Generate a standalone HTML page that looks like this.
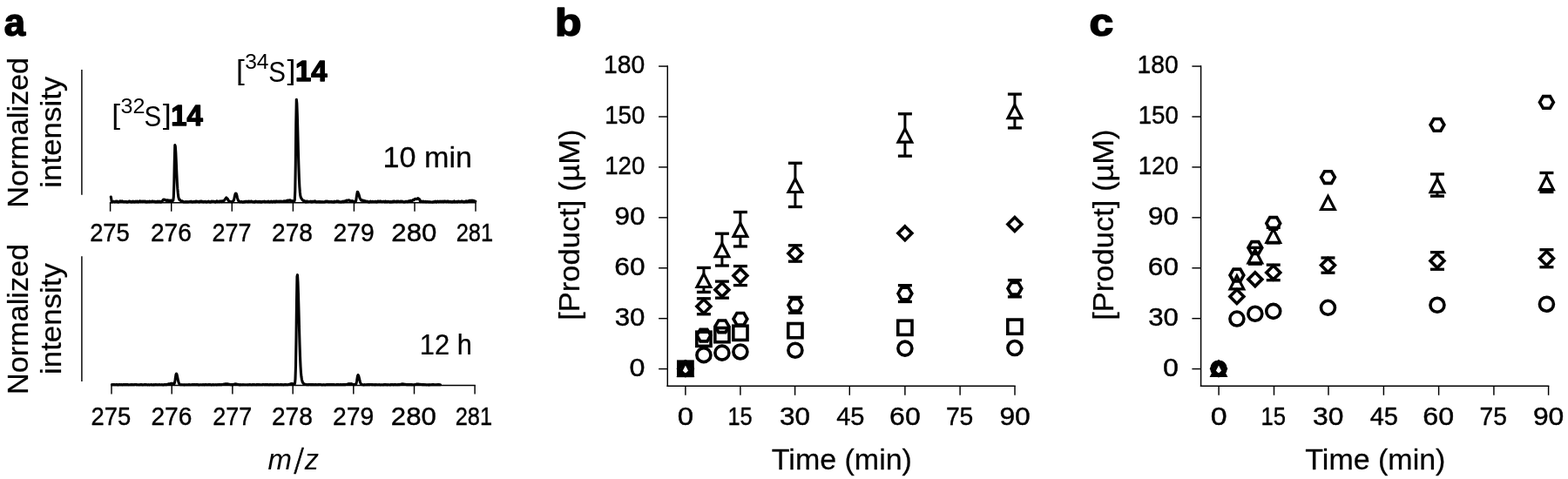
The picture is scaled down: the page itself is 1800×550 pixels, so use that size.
<!DOCTYPE html>
<html lang="en">
<head>
<meta charset="utf-8">
<title>Figure: isotope exchange spectra and product formation time courses</title>
<style>
html,body{margin:0;padding:0;background:#fff;}
body{width:1800px;height:550px;overflow:hidden;}
svg{display:block;font-family:'Liberation Sans', Arial, Helvetica, sans-serif;fill:#000;}
</style>
</head>
<body>
<svg width="1800" height="550" viewBox="0 0 1800 550">
<rect width="1800" height="550" fill="#fff"/>
<g id="panel-labels">
<text transform="translate(4.79 41.45) scale(0.9681 1)" font-size="45.2" font-weight="bold" stroke="#000" stroke-width="1.6" stroke-linejoin="round">a</text>
<text transform="translate(637.04 41.45) scale(1.1084 1)" font-size="45.2" font-weight="bold" stroke="#000" stroke-width="1.6" stroke-linejoin="round">b</text>
<text transform="translate(1250.61 41.45) scale(1.1028 1)" font-size="45.2" font-weight="bold" stroke="#000" stroke-width="1.6" stroke-linejoin="round">c</text>
</g>
<g id="spectrum-10min">
<g stroke="#000" fill="none">
<line x1="93.9" y1="79.9" x2="93.9" y2="223.8" stroke-width="1.45"/>
<line x1="125.88" y1="232.65" x2="546.73" y2="232.65" stroke-width="1.45"/>
<line x1="126.6" y1="232.65" x2="126.6" y2="242.75" stroke-width="1.45"/>
<line x1="196.7" y1="232.65" x2="196.7" y2="242.75" stroke-width="1.45"/>
<line x1="266.3" y1="232.65" x2="266.3" y2="242.75" stroke-width="1.45"/>
<line x1="336.4" y1="232.65" x2="336.4" y2="242.75" stroke-width="1.45"/>
<line x1="406.4" y1="232.65" x2="406.4" y2="242.75" stroke-width="1.45"/>
<line x1="476" y1="232.65" x2="476" y2="242.75" stroke-width="1.45"/>
<line x1="546" y1="232.65" x2="546" y2="242.75" stroke-width="1.45"/>
<path d="M127.3 226 L127.9 229.3 L128.3 231.93 L128.8 231.62 L129.3 231.55 L129.8 231.6 L130.3 231.23 L130.8 231.42 L131.3 231.6 L131.8 231.82 L132.3 231.22 L132.8 231.21 L133.3 231 L133.8 231.63 L134.3 231.73 L134.8 231.13 L135.3 231.84 L135.8 232.07 L136.3 231.85 L136.8 231.74 L137.3 231.25 L137.8 230.94 L138.3 231.33 L138.8 231.01 L139.3 231.03 L139.8 231.08 L140.3 230.9 L140.8 231.25 L141.3 231.36 L141.8 231.78 L142.3 231.62 L142.8 231.68 L143.3 231.56 L143.8 231.68 L144.3 231.52 L144.8 231.29 L145.3 231.91 L145.8 232.13 L146.3 232.05 L146.8 231.9 L147.3 231.46 L147.8 231.22 L148.3 231.2 L148.8 230.97 L149.3 231.58 L149.8 231.43 L150.3 231.81 L150.8 231.5 L151.3 231.95 L151.8 231.99 L152.3 231.19 L152.8 231.11 L153.3 231.76 L153.8 231.56 L154.3 231.99 L154.8 231.57 L155.3 231.11 L155.8 231.49 L156.3 231.77 L156.8 231.37 L157.3 231.05 L157.8 231.18 L158.3 231.84 L158.8 231.87 L159.3 231.26 L159.8 231.17 L160.3 230.99 L160.8 230.89 L161.3 231.58 L161.8 231.21 L162.3 231.46 L162.8 231.43 L163.3 231.18 L163.8 231.61 L164.3 231.18 L164.8 231.53 L165.3 231.14 L165.8 231.3 L166.3 231.15 L166.8 231.15 L167.3 231.84 L167.8 231.91 L168.3 231.45 L168.8 231.86 L169.3 231.34 L169.8 231.34 L170.3 231.79 L170.8 231.74 L171.3 231.19 L171.8 231.87 L172.3 231.35 L172.8 231.21 L173.3 231.67 L173.8 231.39 L174.3 231.26 L174.8 231 L175.3 230.93 L175.8 231.38 L176.3 231.21 L176.8 231.5 L177.3 231.37 L177.8 231.41 L178.3 231.92 L178.8 231.63 L179.3 231.62 L179.8 231.9 L180.3 231.33 L180.8 231.1 L181.3 231.76 L181.8 231.9 L182.3 231.39 L182.8 231.16 L183.3 231.61 L183.8 231.96 L184.3 231.35 L184.8 231.85 L185.3 231.89 L185.8 231.5 L186.3 230.95 L186.8 230.1 L187.3 229.35 L187.8 229.7 L188.3 229.04 L188.8 229.37 L189.3 229.22 L189.8 229.93 L190.3 230.12 L190.8 230 L191.3 229.87 L191.8 230.35 L192.3 229.85 L192.8 229.81 L193.3 230.11 L193.8 230.52 L194.3 230.47 L194.8 230.18 L195.3 230.77 L195.8 230.37 L196.3 230.13 L196.8 230.38 L197.3 230.71 L197.8 230.51 L198.3 230.53 L198.8 230.1 L199.3 226.31 L199.8 211.74 L200.3 185.58 L200.8 166.55 L201.3 167.95 L201.8 175.27 L202.3 186.47 L202.8 198.51 L203.3 208.79 L203.8 216.67 L204.3 221.99 L204.8 226.07 L205.3 227.98 L205.8 229.29 L206.3 229.11 L206.8 229.89 L207.3 230.23 L207.8 230.77 L208.3 230.72 L208.8 231.48 L209.3 230.93 L209.8 231.25 L210.3 231.59 L210.8 231.89 L211.3 231.85 L211.8 231.81 L212.3 231.89 L212.8 232.04 L213.3 231.54 L213.8 231.7 L214.3 231.96 L214.8 232.02 L215.3 231.6 L215.8 231.82 L216.3 231.97 L216.8 231.73 L217.3 231.7 L217.8 231.46 L218.3 231.57 L218.8 231.63 L219.3 231.14 L219.8 231.51 L220.3 231.98 L220.8 232.04 L221.3 231.91 L221.8 231.54 L222.3 231.74 L222.8 231.66 L223.3 231.5 L223.8 231.83 L224.3 231.21 L224.8 231.64 L225.3 231.09 L225.8 231.46 L226.3 231.47 L226.8 231.23 L227.3 231.6 L227.8 231.53 L228.3 231.62 L228.8 231.95 L229.3 231.42 L229.8 231 L230.3 231.13 L230.8 231.54 L231.3 231.23 L231.8 231.08 L232.3 231.75 L232.8 231.74 L233.3 231.53 L233.8 231.89 L234.3 231.47 L234.8 231.65 L235.3 231.26 L235.8 231.35 L236.3 231.75 L236.8 231.99 L237.3 232.04 L237.8 231.58 L238.3 231.61 L238.8 231.36 L239.3 231.1 L239.8 231.36 L240.3 231.78 L240.8 231.94 L241.3 231.86 L241.8 232.06 L242.3 231.48 L242.8 231.17 L243.3 231.34 L243.8 231.22 L244.3 231.12 L244.8 231.28 L245.3 231.55 L245.8 231.51 L246.3 231.32 L246.8 231.77 L247.3 232.06 L247.8 231.65 L248.3 231.14 L248.8 230.92 L249.3 231.66 L249.8 231.11 L250.3 231.57 L250.8 231.59 L251.3 231.35 L251.8 231.73 L252.3 231.11 L252.8 231.01 L253.3 231.28 L253.8 230.96 L254.3 231.62 L254.8 231.26 L255.3 231 L255.8 230.73 L256.3 231.03 L256.8 230.65 L257.3 230.24 L257.8 229.54 L258.3 228.84 L258.8 228.26 L259.3 227.57 L259.8 226.97 L260.3 227.42 L260.8 227.84 L261.3 228.4 L261.8 229.55 L262.3 230.57 L262.8 230.64 L263.3 230.88 L263.8 231.1 L264.3 231.54 L264.8 231.53 L265.3 231.62 L265.8 231.79 L266.3 231.47 L266.8 231.68 L267.3 231.68 L267.8 230.46 L268.3 230.06 L268.8 228.47 L269.3 225.77 L269.8 223.66 L270.3 222.23 L270.8 222.15 L271.3 222.48 L271.8 224.09 L272.3 226.35 L272.8 228.25 L273.3 229.9 L273.8 230.51 L274.3 231.16 L274.8 231.05 L275.3 231.55 L275.8 231.83 L276.3 231.75 L276.8 231.8 L277.3 231.33 L277.8 231.83 L278.3 232.08 L278.8 232.17 L279.3 231.77 L279.8 231.88 L280.3 231.46 L280.8 231.88 L281.3 231.98 L281.8 231.52 L282.3 231.1 L282.8 231.3 L283.3 231.48 L283.8 231.75 L284.3 231.58 L284.8 231.07 L285.3 231.65 L285.8 231.13 L286.3 231.66 L286.8 231.24 L287.3 231.25 L287.8 231.69 L288.3 231.22 L288.8 231.06 L289.3 231.36 L289.8 231.67 L290.3 231.89 L290.8 231.82 L291.3 232.05 L291.8 231.68 L292.3 232 L292.8 231.27 L293.3 231.15 L293.8 231.4 L294.3 231.26 L294.8 231.64 L295.3 231.68 L295.8 231.59 L296.3 231.87 L296.8 231.69 L297.3 231.38 L297.8 231.34 L298.3 231.78 L298.8 231.99 L299.3 231.39 L299.8 231.8 L300.3 232.06 L300.8 231.72 L301.3 231.65 L301.8 231.26 L302.3 231.45 L302.8 231.49 L303.3 231.6 L303.8 231.07 L304.3 231.81 L304.8 231.62 L305.3 231.45 L305.8 231.77 L306.3 231.66 L306.8 231.55 L307.3 231.7 L307.8 231.15 L308.3 231.41 L308.8 231.39 L309.3 231.91 L309.8 232.05 L310.3 231.47 L310.8 231.46 L311.3 231.12 L311.8 231.3 L312.3 231.74 L312.8 231.97 L313.3 231.64 L313.8 231.37 L314.3 231.15 L314.8 231.49 L315.3 231.91 L315.8 231.28 L316.3 231.7 L316.8 231.1 L317.3 231.06 L317.8 231.08 L318.3 231.54 L318.8 231.34 L319.3 231.3 L319.8 231.55 L320.3 231.13 L320.8 231.59 L321.3 231.16 L321.8 231.38 L322.3 231.2 L322.8 231.08 L323.3 231.35 L323.8 231.34 L324.3 231.25 L324.8 231.23 L325.3 231.29 L325.8 230.9 L326.3 230.74 L326.8 231.02 L327.3 231.03 L327.8 230.83 L328.3 230.96 L328.8 230.67 L329.3 230.71 L329.8 230.03 L330.3 230.22 L330.8 230.31 L331.3 230.43 L331.8 229.91 L332.3 229.78 L332.8 230.39 L333.3 230.01 L333.8 230.74 L334.3 230.99 L334.8 230.45 L335.3 230.47 L335.8 231.04 L336.3 230.85 L336.8 230.69 L337.3 231.37 L337.8 231.04 L338.3 229.56 L338.8 219.25 L339.3 189.11 L339.8 141.21 L340.3 114.24 L340.8 118.63 L341.3 132.01 L341.8 150.73 L342.3 170.84 L342.8 188.33 L343.3 203.08 L343.8 213.86 L344.3 220.48 L344.8 224.64 L345.3 226.49 L345.8 227.53 L346.3 228.29 L346.8 228.78 L347.3 229.71 L347.8 230.22 L348.3 230.63 L348.8 230.51 L349.3 230.61 L349.8 230.75 L350.3 231.47 L350.8 231.91 L351.3 232.02 L351.8 231.27 L352.3 230.98 L352.8 231.75 L353.3 231.55 L353.8 231.77 L354.3 231.43 L354.8 231.44 L355.3 231.49 L355.8 231.43 L356.3 231.57 L356.8 231.05 L357.3 231.54 L357.8 231.85 L358.3 231.31 L358.8 231.39 L359.3 231.69 L359.8 231.48 L360.3 231.19 L360.8 231.07 L361.3 231.36 L361.8 230.98 L362.3 231.7 L362.8 231.86 L363.3 231.83 L363.8 231.97 L364.3 231.79 L364.8 231.51 L365.3 231.6 L365.8 231.54 L366.3 231.98 L366.8 231.97 L367.3 231.43 L367.8 231.88 L368.3 231.87 L368.8 231.9 L369.3 231.95 L369.8 231.56 L370.3 231.91 L370.8 232.01 L371.3 231.87 L371.8 231.89 L372.3 231.9 L372.8 231.55 L373.3 231.73 L373.8 231.16 L374.3 231.23 L374.8 231.37 L375.3 230.98 L375.8 231.18 L376.3 231.52 L376.8 231.63 L377.3 231.28 L377.8 231.86 L378.3 231.79 L378.8 231.44 L379.3 231.64 L379.8 231.62 L380.3 231.57 L380.8 231.42 L381.3 231.96 L381.8 231.8 L382.3 231.8 L382.8 231.86 L383.3 232.09 L383.8 231.24 L384.3 231.52 L384.8 231.74 L385.3 231.35 L385.8 231.35 L386.3 231.01 L386.8 231.03 L387.3 231.21 L387.8 231.01 L388.3 231.09 L388.8 231.75 L389.3 231.64 L389.8 231.56 L390.3 231.97 L390.8 231.73 L391.3 232.06 L391.8 231.83 L392.3 231.92 L392.8 231.23 L393.3 231.5 L393.8 231.74 L394.3 231.12 L394.8 231.74 L395.3 231.17 L395.8 231.22 L396.3 230.85 L396.8 230.92 L397.3 230.92 L397.8 230.22 L398.3 230.68 L398.8 230.19 L399.3 230.03 L399.8 230.02 L400.3 229.82 L400.8 229.78 L401.3 230.27 L401.8 230.52 L402.3 230.49 L402.8 231.05 L403.3 230.94 L403.8 230.71 L404.3 230.91 L404.8 230.81 L405.3 230.91 L405.8 231.53 L406.3 231.4 L406.8 231.85 L407.3 231.84 L407.8 231.02 L408.3 231.13 L408.8 229.75 L409.3 225.96 L409.8 222.82 L410.3 220.34 L410.8 220.44 L411.3 221.93 L411.8 222.92 L412.3 224.7 L412.8 226.7 L413.3 227.91 L413.8 228.59 L414.3 229.7 L414.8 230.14 L415.3 230.23 L415.8 229.89 L416.3 230.38 L416.8 230.49 L417.3 230.38 L417.8 230.28 L418.3 230.8 L418.8 230.66 L419.3 230.98 L419.8 231.36 L420.3 231.32 L420.8 231.15 L421.3 231.42 L421.8 231.37 L422.3 231.71 L422.8 231.59 L423.3 232.01 L423.8 232.12 L424.3 231.94 L424.8 231.4 L425.3 231.09 L425.8 231.74 L426.3 231.86 L426.8 231.75 L427.3 231.45 L427.8 231.26 L428.3 231.6 L428.8 231.6 L429.3 231.62 L429.8 231.67 L430.3 231.81 L430.8 231.31 L431.3 231.19 L431.8 231.86 L432.3 232.03 L432.8 232.06 L433.3 231.25 L433.8 230.98 L434.3 231.1 L434.8 231.29 L435.3 231.55 L435.8 231.13 L436.3 231.41 L436.8 231.05 L437.3 230.94 L437.8 231.48 L438.3 231.54 L438.8 231.64 L439.3 231.43 L439.8 231.45 L440.3 231.2 L440.8 231.24 L441.3 231.65 L441.8 231.88 L442.3 231.22 L442.8 231.03 L443.3 231.64 L443.8 231.67 L444.3 231.82 L444.8 231.33 L445.3 231.37 L445.8 231.22 L446.3 231.7 L446.8 231.44 L447.3 231.63 L447.8 232.02 L448.3 231.51 L448.8 231.55 L449.3 231.76 L449.8 232 L450.3 231.6 L450.8 231.41 L451.3 231.08 L451.8 231.72 L452.3 231.17 L452.8 230.98 L453.3 231.38 L453.8 231.44 L454.3 231.66 L454.8 231.36 L455.3 231.72 L455.8 231.16 L456.3 231.1 L456.8 231.52 L457.3 231.1 L457.8 231.17 L458.3 231.6 L458.8 231.72 L459.3 231.37 L459.8 231.1 L460.3 231.22 L460.8 231.62 L461.3 231.41 L461.8 231.09 L462.3 231.55 L462.8 231.57 L463.3 231.91 L463.8 232.05 L464.3 232.06 L464.8 231.59 L465.3 231.77 L465.8 231.34 L466.3 231.18 L466.8 231.18 L467.3 231.67 L467.8 231.77 L468.3 231.14 L468.8 230.98 L469.3 230.88 L469.8 230.78 L470.3 230.71 L470.8 230.59 L471.3 230.28 L471.8 230.44 L472.3 230.61 L472.8 230.32 L473.3 230.38 L473.8 230.02 L474.3 229.38 L474.8 229.6 L475.3 229.67 L475.8 228.98 L476.3 228.36 L476.8 228.51 L477.3 228.48 L477.8 228.4 L478.3 228.68 L478.8 228.4 L479.3 228.41 L479.8 227.66 L480.3 227.85 L480.8 228.25 L481.3 228.53 L481.8 229.5 L482.3 230.95 L482.8 231.73 L483.3 231.2 L483.8 231.53 L484.3 231.17 L484.8 231.62 L485.3 231.69 L485.8 231.32 L486.3 231.16 L486.8 231.64 L487.3 231.57 L487.8 231.78 L488.3 231.5 L488.8 231.34 L489.3 231.9 L489.8 231.81 L490.3 231.6 L490.8 231.57 L491.3 231.74 L491.8 231.79 L492.3 232.01 L492.8 231.59 L493.3 231.85 L493.8 231.78 L494.3 231.94 L494.8 231.95 L495.3 231.98 L495.8 232.05 L496.3 232.14 L496.8 231.86 L497.3 231.65 L497.8 231.76 L498.3 231.88 L498.8 231.56 L499.3 231.44 L499.8 231.14 L500.3 231.61 L500.8 232.02 L501.3 231.56 L501.8 231.2 L502.3 231.11 L502.8 231.29 L503.3 231.22 L503.8 231.86 L504.3 231.2 L504.8 231.21 L505.3 231.02 L505.8 231.48 L506.3 231.76 L506.8 231.28 L507.3 231 L507.8 231.28 L508.3 231.51 L508.8 231.9 L509.3 231.19 L509.8 231.01 L510.3 231.02 L510.8 231.06 L511.3 231.09 L511.8 231.57 L512.3 231.62 L512.8 231.27 L513.3 231.11 L513.8 231.15 L514.3 231.06 L514.8 231.6 L515.3 231.35 L515.8 231.49 L516.3 231.81 L516.8 231.59 L517.3 231.3 L517.8 231.81 L518.3 232.01 L518.8 231.52 L519.3 231.55 L519.8 231.96 L520.3 231.65 L520.8 231.28 L521.3 230.98 L521.8 231.76 L522.3 231.88 L522.8 231.52 L523.3 231.53 L523.8 231.53 L524.3 231.29 L524.8 231.9 L525.3 231.8 L525.8 231.35 L526.3 230.97 L526.8 231.29 L527.3 231.3 L527.8 231.72 L528.3 231.78 L528.8 231.7 L529.3 231.24 L529.8 231.07 L530.3 231.18 L530.8 231.15 L531.3 231.74 L531.8 231.6 L532.3 231.67 L532.8 232.04 L533.3 231.45 L533.8 231.51 L534.3 231.14 L534.8 231.61 L535.3 231 L535.8 231.56 L536.3 231.73 L536.8 231.71 L537.3 230.91 L537.8 230.72 L538.3 230.98 L538.8 230.36 L539.3 230.41 L539.8 230.31 L540.3 230.67 L540.8 230.38 L541.3 230.53 L541.8 230.07 L542.3 230.44 L542.8 230.29 L543.3 230.83 L543.8 230.33 L544.3 230.98 L544.8 230.71 L545.3 231.03 L545.8 231.2" stroke-width="3.1" stroke-linejoin="round" stroke-linecap="round"/>
</g>
<text transform="translate(103.13 277.2) scale(0.9443 1)" font-size="29" stroke="#000" stroke-width="0.4" stroke-linejoin="round">275</text>
<text transform="translate(172.89 277.2) scale(0.9699 1)" font-size="29" stroke="#000" stroke-width="0.4" stroke-linejoin="round">276</text>
<text transform="translate(243.55 277.2) scale(0.9305 1)" font-size="29" stroke="#000" stroke-width="0.4" stroke-linejoin="round">277</text>
<text transform="translate(312.09 277.2) scale(0.9699 1)" font-size="29" stroke="#000" stroke-width="0.4" stroke-linejoin="round">278</text>
<text transform="translate(382.59 277.2) scale(0.9758 1)" font-size="29" stroke="#000" stroke-width="0.4" stroke-linejoin="round">279</text>
<text transform="translate(449.34 277.2) scale(1.0738 1)" font-size="29" stroke="#000" stroke-width="0.4" stroke-linejoin="round">280</text>
<text transform="translate(523.63 277.2) scale(0.8763 1)" font-size="29" stroke="#000" stroke-width="0.4" stroke-linejoin="round">281</text>
</g>
<g id="spectrum-12h">
<g stroke="#000" fill="none">
<line x1="93.9" y1="294.3" x2="93.9" y2="438" stroke-width="1.45"/>
<line x1="127.28" y1="442.4" x2="545.83" y2="442.4" stroke-width="1.45"/>
<line x1="128" y1="442.4" x2="128" y2="452.5" stroke-width="1.45"/>
<line x1="197.2" y1="442.4" x2="197.2" y2="452.5" stroke-width="1.45"/>
<line x1="266.9" y1="442.4" x2="266.9" y2="452.5" stroke-width="1.45"/>
<line x1="336.2" y1="442.4" x2="336.2" y2="452.5" stroke-width="1.45"/>
<line x1="405.8" y1="442.4" x2="405.8" y2="452.5" stroke-width="1.45"/>
<line x1="475.5" y1="442.4" x2="475.5" y2="452.5" stroke-width="1.45"/>
<line x1="545.1" y1="442.4" x2="545.1" y2="452.5" stroke-width="1.45"/>
<path d="M128.5 441.59 L129 441.77 L129.5 441.66 L130 441.63 L130.5 441.54 L131 441.58 L131.5 441.65 L132 441.75 L132.5 441.67 L133 441.75 L133.5 441.59 L134 441.63 L134.5 441.66 L135 441.84 L135.5 441.86 L136 441.8 L136.5 441.58 L137 441.62 L137.5 441.74 L138 441.63 L138.5 441.7 L139 441.68 L139.5 441.54 L140 441.8 L140.5 441.83 L141 441.65 L141.5 441.72 L142 441.64 L142.5 441.64 L143 441.69 L143.5 441.63 L144 441.62 L144.5 441.64 L145 441.73 L145.5 441.63 L146 441.58 L146.5 441.73 L147 441.66 L147.5 441.83 L148 441.77 L148.5 441.8 L149 441.68 L149.5 441.8 L150 441.6 L150.5 441.55 L151 441.52 L151.5 441.69 L152 441.77 L152.5 441.62 L153 441.64 L153.5 441.79 L154 441.76 L154.5 441.59 L155 441.57 L155.5 441.54 L156 441.52 L156.5 441.61 L157 441.53 L157.5 441.78 L158 441.7 L158.5 441.7 L159 441.75 L159.5 441.8 L160 441.84 L160.5 441.71 L161 441.65 L161.5 441.65 L162 441.53 L162.5 441.61 L163 441.73 L163.5 441.87 L164 441.85 L164.5 441.81 L165 441.77 L165.5 441.57 L166 441.6 L166.5 441.61 L167 441.72 L167.5 441.58 L168 441.62 L168.5 441.67 L169 441.78 L169.5 441.84 L170 441.78 L170.5 441.62 L171 441.76 L171.5 441.85 L172 441.77 L172.5 441.68 L173 441.69 L173.5 441.58 L174 441.73 L174.5 441.87 L175 441.76 L175.5 441.79 L176 441.84 L176.5 441.65 L177 441.83 L177.5 441.79 L178 441.63 L178.5 441.54 L179 441.56 L179.5 441.68 L180 441.76 L180.5 441.66 L181 441.83 L181.5 441.7 L182 441.69 L182.5 441.57 L183 441.81 L183.5 441.62 L184 441.8 L184.5 441.75 L185 441.74 L185.5 441.73 L186 441.63 L186.5 441.81 L187 441.9 L187.5 441.87 L188 441.78 L188.5 441.59 L189 441.75 L189.5 441.61 L190 441.75 L190.5 441.56 L191 441.56 L191.5 441.61 L192 441.36 L192.5 441.32 L193 441.07 L193.5 440.88 L194 440.77 L194.5 440.89 L195 440.82 L195.5 440.61 L196 440.35 L196.5 440.33 L197 440.31 L197.5 440.19 L198 440.31 L198.5 440.6 L199 440.63 L199.5 440.76 L200 440.56 L200.5 439.29 L201 436.79 L201.5 433.25 L202 429.94 L202.5 429.09 L203 429.98 L203.5 432.06 L204 434.51 L204.5 437 L205 438.75 L205.5 440.22 L206 440.88 L206.5 441.51 L207 441.66 L207.5 441.68 L208 441.66 L208.5 441.73 L209 441.77 L209.5 441.81 L210 441.82 L210.5 441.74 L211 441.87 L211.5 441.87 L212 441.88 L212.5 441.73 L213 441.69 L213.5 441.72 L214 441.84 L214.5 441.76 L215 441.73 L215.5 441.69 L216 441.83 L216.5 441.69 L217 441.55 L217.5 441.72 L218 441.84 L218.5 441.82 L219 441.77 L219.5 441.81 L220 441.67 L220.5 441.72 L221 441.57 L221.5 441.53 L222 441.62 L222.5 441.67 L223 441.66 L223.5 441.54 L224 441.71 L224.5 441.71 L225 441.62 L225.5 441.61 L226 441.63 L226.5 441.59 L227 441.52 L227.5 441.77 L228 441.88 L228.5 441.82 L229 441.86 L229.5 441.73 L230 441.81 L230.5 441.65 L231 441.76 L231.5 441.74 L232 441.85 L232.5 441.62 L233 441.77 L233.5 441.6 L234 441.68 L234.5 441.84 L235 441.59 L235.5 441.58 L236 441.59 L236.5 441.61 L237 441.52 L237.5 441.77 L238 441.83 L238.5 441.71 L239 441.66 L239.5 441.71 L240 441.56 L240.5 441.5 L241 441.76 L241.5 441.66 L242 441.68 L242.5 441.84 L243 441.9 L243.5 441.76 L244 441.63 L244.5 441.61 L245 441.81 L245.5 441.87 L246 441.66 L246.5 441.8 L247 441.69 L247.5 441.69 L248 441.59 L248.5 441.78 L249 441.89 L249.5 441.67 L250 441.73 L250.5 441.61 L251 441.79 L251.5 441.58 L252 441.52 L252.5 441.69 L253 441.6 L253.5 441.75 L254 441.77 L254.5 441.7 L255 441.46 L255.5 441.51 L256 441.56 L256.5 441.37 L257 441.12 L257.5 441.02 L258 440.95 L258.5 441.01 L259 440.82 L259.5 440.71 L260 440.68 L260.5 440.81 L261 440.92 L261.5 440.9 L262 441.07 L262.5 441.3 L263 441.37 L263.5 441.35 L264 441.42 L264.5 441.69 L265 441.72 L265.5 441.62 L266 441.7 L266.5 441.55 L267 441.76 L267.5 441.62 L268 441.54 L268.5 441.43 L269 441.13 L269.5 441.12 L270 440.96 L270.5 440.89 L271 441.1 L271.5 441.03 L272 441.17 L272.5 441.46 L273 441.46 L273.5 441.51 L274 441.64 L274.5 441.57 L275 441.78 L275.5 441.89 L276 441.61 L276.5 441.66 L277 441.77 L277.5 441.69 L278 441.83 L278.5 441.75 L279 441.61 L279.5 441.69 L280 441.74 L280.5 441.67 L281 441.74 L281.5 441.81 L282 441.74 L282.5 441.72 L283 441.82 L283.5 441.8 L284 441.74 L284.5 441.86 L285 441.65 L285.5 441.77 L286 441.62 L286.5 441.71 L287 441.62 L287.5 441.65 L288 441.77 L288.5 441.82 L289 441.84 L289.5 441.66 L290 441.68 L290.5 441.6 L291 441.69 L291.5 441.7 L292 441.55 L292.5 441.68 L293 441.76 L293.5 441.75 L294 441.84 L294.5 441.64 L295 441.57 L295.5 441.5 L296 441.63 L296.5 441.65 L297 441.66 L297.5 441.61 L298 441.77 L298.5 441.58 L299 441.79 L299.5 441.75 L300 441.73 L300.5 441.81 L301 441.65 L301.5 441.57 L302 441.59 L302.5 441.51 L303 441.57 L303.5 441.7 L304 441.71 L304.5 441.63 L305 441.7 L305.5 441.57 L306 441.76 L306.5 441.61 L307 441.59 L307.5 441.55 L308 441.71 L308.5 441.81 L309 441.83 L309.5 441.6 L310 441.64 L310.5 441.63 L311 441.58 L311.5 441.81 L312 441.59 L312.5 441.66 L313 441.77 L313.5 441.88 L314 441.65 L314.5 441.67 L315 441.77 L315.5 441.57 L316 441.57 L316.5 441.78 L317 441.61 L317.5 441.63 L318 441.61 L318.5 441.64 L319 441.54 L319.5 441.49 L320 441.79 L320.5 441.82 L321 441.82 L321.5 441.65 L322 441.6 L322.5 441.68 L323 441.61 L323.5 441.66 L324 441.83 L324.5 441.7 L325 441.65 L325.5 441.84 L326 441.78 L326.5 441.58 L327 441.63 L327.5 441.72 L328 441.56 L328.5 441.6 L329 441.72 L329.5 441.8 L330 441.73 L330.5 441.76 L331 441.59 L331.5 441.44 L332 441.45 L332.5 441.19 L333 441.12 L333.5 440.81 L334 440.66 L334.5 440.51 L335 440.57 L335.5 440.54 L336 440.68 L336.5 440.89 L337 441.18 L337.5 441.31 L338 441.26 L338.5 440.32 L339 435.32 L339.5 420.45 L340 389.41 L340.5 347.77 L341 317.46 L341.5 315.67 L342 324.24 L342.5 339.24 L343 357.86 L343.5 377.3 L344 395.05 L344.5 409.67 L345 420.79 L345.5 428.34 L346 433.08 L346.5 436.09 L347 437.85 L347.5 439.22 L348 439.86 L348.5 440.48 L349 440.88 L349.5 441.23 L350 441.17 L350.5 441.33 L351 441.45 L351.5 441.43 L352 441.71 L352.5 441.63 L353 441.76 L353.5 441.72 L354 441.56 L354.5 441.62 L355 441.59 L355.5 441.51 L356 441.52 L356.5 441.67 L357 441.54 L357.5 441.58 L358 441.63 L358.5 441.69 L359 441.58 L359.5 441.72 L360 441.63 L360.5 441.75 L361 441.77 L361.5 441.61 L362 441.57 L362.5 441.58 L363 441.73 L363.5 441.68 L364 441.66 L364.5 441.8 L365 441.65 L365.5 441.61 L366 441.62 L366.5 441.58 L367 441.51 L367.5 441.48 L368 441.66 L368.5 441.71 L369 441.8 L369.5 441.89 L370 441.7 L370.5 441.76 L371 441.86 L371.5 441.66 L372 441.75 L372.5 441.77 L373 441.87 L373.5 441.88 L374 441.68 L374.5 441.73 L375 441.58 L375.5 441.63 L376 441.64 L376.5 441.54 L377 441.6 L377.5 441.61 L378 441.67 L378.5 441.62 L379 441.56 L379.5 441.62 L380 441.66 L380.5 441.58 L381 441.71 L381.5 441.62 L382 441.54 L382.5 441.59 L383 441.64 L383.5 441.56 L384 441.68 L384.5 441.76 L385 441.74 L385.5 441.78 L386 441.57 L386.5 441.62 L387 441.63 L387.5 441.53 L388 441.61 L388.5 441.52 L389 441.64 L389.5 441.71 L390 441.69 L390.5 441.64 L391 441.6 L391.5 441.51 L392 441.58 L392.5 441.78 L393 441.74 L393.5 441.62 L394 441.7 L394.5 441.56 L395 441.59 L395.5 441.62 L396 441.71 L396.5 441.5 L397 441.45 L397.5 441.5 L398 441.39 L398.5 441.23 L399 441.1 L399.5 440.92 L400 440.79 L400.5 440.65 L401 440.74 L401.5 440.77 L402 440.61 L402.5 440.77 L403 440.63 L403.5 440.72 L404 440.98 L404.5 441.12 L405 441.27 L405.5 441.59 L406 441.48 L406.5 441.49 L407 441.52 L407.5 441.66 L408 441.48 L408.5 441.01 L409 440.13 L409.5 438.01 L410 434.8 L410.5 431.78 L411 430.54 L411.5 431.13 L412 432.78 L412.5 434.94 L413 437.22 L413.5 439.1 L414 440.2 L414.5 440.92 L415 441.49 L415.5 441.55 L416 441.72 L416.5 441.77 L417 441.79 L417.5 441.88 L418 441.87 L418.5 441.65 L419 441.72 L419.5 441.7 L420 441.72 L420.5 441.67 L421 441.62 L421.5 441.75 L422 441.73 L422.5 441.62 L423 441.59 L423.5 441.61 L424 441.56 L424.5 441.66 L425 441.56 L425.5 441.51 L426 441.49 L426.5 441.5 L427 441.7 L427.5 441.57 L428 441.64 L428.5 441.77 L429 441.72 L429.5 441.6 L430 441.78 L430.5 441.85 L431 441.61 L431.5 441.59 L432 441.66 L432.5 441.78 L433 441.69 L433.5 441.77 L434 441.64 L434.5 441.75 L435 441.66 L435.5 441.63 L436 441.76 L436.5 441.83 L437 441.85 L437.5 441.78 L438 441.7 L438.5 441.77 L439 441.76 L439.5 441.83 L440 441.84 L440.5 441.63 L441 441.63 L441.5 441.73 L442 441.62 L442.5 441.57 L443 441.5 L443.5 441.66 L444 441.83 L444.5 441.9 L445 441.65 L445.5 441.74 L446 441.69 L446.5 441.74 L447 441.68 L447.5 441.83 L448 441.91 L448.5 441.63 L449 441.74 L449.5 441.59 L450 441.51 L450.5 441.57 L451 441.73 L451.5 441.87 L452 441.64 L452.5 441.62 L453 441.52 L453.5 441.65 L454 441.68 L454.5 441.65 L455 441.62 L455.5 441.77 L456 441.83 L456.5 441.66 L457 441.63 L457.5 441.67 L458 441.7 L458.5 441.74 L459 441.5 L459.5 441.45 L460 441.32 L460.5 441.28 L461 441.01 L461.5 440.89 L462 440.83 L462.5 441.1 L463 441.03 L463.5 441.15 L464 441.14 L464.5 441.28 L465 441.28 L465.5 441.5 L466 441.47 L466.5 441.64 L467 441.59 L467.5 441.57 L468 441.65 L468.5 441.64 L469 441.6 L469.5 441.52 L470 441.5 L470.5 441.76 L471 441.66 L471.5 441.55 L472 441.54 L472.5 441.64 L473 441.84 L473.5 441.65 L474 441.8 L474.5 441.73 L475 441.67 L475.5 441.77 L476 441.64 L476.5 441.43 L477 441.44 L477.5 441.37 L478 441.21 L478.5 440.93 L479 440.97 L479.5 440.96 L480 441.07 L480.5 441.04 L481 441.28 L481.5 441.45 L482 441.41 L482.5 441.4 L483 441.47 L483.5 441.49 L484 441.49 L484.5 441.58 L485 441.74 L485.5 441.65 L486 441.69 L486.5 441.54 L487 441.55 L487.5 441.8 L488 441.57 L488.5 441.67 L489 441.79 L489.5 441.83 L490 441.82 L490.5 441.71 L491 441.8 L491.5 441.84 L492 441.84 L492.5 441.91 L493 441.64 L493.5 441.83 L494 441.71 L494.5 441.77 L495 441.64 L495.5 441.81 L496 441.58 L496.5 441.68 L497 441.61 L497.5 441.63 L498 441.63 L498.5 441.73 L499 441.81 L499.5 441.69 L500 441.74 L500.5 441.67 L501 441.62 L501.5 441.8 L502 441.68 L502.5 441.56 L503 441.6 L503.5 441.74 L504 441.62 L504.5 441.75 L505 441.73 L505.5 441.77" stroke-width="3.1" stroke-linejoin="round" stroke-linecap="round"/>
</g>
<text transform="translate(104.53 487.6) scale(0.9443 1)" font-size="29" stroke="#000" stroke-width="0.4" stroke-linejoin="round">275</text>
<text transform="translate(173.39 487.6) scale(0.9699 1)" font-size="29" stroke="#000" stroke-width="0.4" stroke-linejoin="round">276</text>
<text transform="translate(244.15 487.6) scale(0.9305 1)" font-size="29" stroke="#000" stroke-width="0.4" stroke-linejoin="round">277</text>
<text transform="translate(311.89 487.6) scale(0.9699 1)" font-size="29" stroke="#000" stroke-width="0.4" stroke-linejoin="round">278</text>
<text transform="translate(381.99 487.6) scale(0.9758 1)" font-size="29" stroke="#000" stroke-width="0.4" stroke-linejoin="round">279</text>
<text transform="translate(448.84 487.6) scale(1.0738 1)" font-size="29" stroke="#000" stroke-width="0.4" stroke-linejoin="round">280</text>
<text transform="translate(522.73 487.6) scale(0.8763 1)" font-size="29" stroke="#000" stroke-width="0.4" stroke-linejoin="round">281</text>
</g>
<g id="a-labels">
<text transform="translate(32.4 238.7) rotate(-90) scale(1.0174 1)" font-size="33.6" stroke="#000" stroke-width="0.25" stroke-linejoin="round">Normalized</text>
<text transform="translate(70.2 215.63) rotate(-90) scale(1.0378 1)" font-size="33.6" stroke="#000" stroke-width="0.25" stroke-linejoin="round">intensity</text>
<text transform="translate(32.4 453) rotate(-90) scale(1.0192 1)" font-size="33.6" stroke="#000" stroke-width="0.25" stroke-linejoin="round">Normalized</text>
<text transform="translate(70.2 429.93) rotate(-90) scale(1.0370 1)" font-size="33.6" stroke="#000" stroke-width="0.25" stroke-linejoin="round">intensity</text>
<text ><tspan x="128.33" y="142.2" font-size="32.26" textLength="9.85" lengthAdjust="spacingAndGlyphs">[</tspan><tspan x="138.46" y="129.9" font-size="24.2" textLength="27.96" lengthAdjust="spacingAndGlyphs">32</tspan><tspan x="165.57" y="144.6" font-size="33.6" textLength="19.72" lengthAdjust="spacingAndGlyphs">S</tspan><tspan x="186.83" y="142.2" font-size="32.26" textLength="10" lengthAdjust="spacingAndGlyphs">]</tspan><tspan x="196.2" y="144.1" font-size="32.4" textLength="36.49" lengthAdjust="spacingAndGlyphs" font-weight="bold" stroke="#000" stroke-width="1.3" stroke-linejoin="round">14</tspan></text>
<text ><tspan x="271.03" y="91.3" font-size="32.26" textLength="9.85" lengthAdjust="spacingAndGlyphs">[</tspan><tspan x="281.18" y="79" font-size="24.2" textLength="27.36" lengthAdjust="spacingAndGlyphs">34</tspan><tspan x="308.27" y="93.7" font-size="33.6" textLength="19.72" lengthAdjust="spacingAndGlyphs">S</tspan><tspan x="329.53" y="91.3" font-size="32.26" textLength="10" lengthAdjust="spacingAndGlyphs">]</tspan><tspan x="338.9" y="93.2" font-size="32.4" textLength="36.49" lengthAdjust="spacingAndGlyphs" font-weight="bold" stroke="#000" stroke-width="1.3" stroke-linejoin="round">14</tspan></text>
<text transform="translate(439.56 191.5) scale(1.0162 1)" font-size="33.6" stroke="#000" stroke-width="0.25" stroke-linejoin="round">10 min</text>
<text transform="translate(481.81 407.3) scale(0.9176 1)" font-size="33.6" stroke="#000" stroke-width="0.25" stroke-linejoin="round">12 h</text>
<text font-style="italic"><tspan x="307.62" y="539.3" font-size="33.6" textLength="27.48" lengthAdjust="spacingAndGlyphs">m</tspan><tspan x="339.08" y="544" font-size="40.5" textLength="7.45" lengthAdjust="spacingAndGlyphs" stroke="#000" stroke-width="0.6" stroke-linejoin="round">/</tspan><tspan x="349.76" y="539.3" font-size="33.6" textLength="16.22" lengthAdjust="spacingAndGlyphs">z</tspan></text>
</g>
<g id="panel-b">
<g stroke="#000" fill="none">
<line x1="766.3" y1="75.36" x2="766.3" y2="443.93" stroke-width="1.45"/>
<line x1="765.57" y1="443.2" x2="1165.72" y2="443.2" stroke-width="1.45"/>
<line x1="756.1" y1="423.6" x2="766.3" y2="423.6" stroke-width="1.45"/>
<line x1="756.1" y1="365.68" x2="766.3" y2="365.68" stroke-width="1.45"/>
<line x1="756.1" y1="307.76" x2="766.3" y2="307.76" stroke-width="1.45"/>
<line x1="756.1" y1="249.84" x2="766.3" y2="249.84" stroke-width="1.45"/>
<line x1="756.1" y1="191.92" x2="766.3" y2="191.92" stroke-width="1.45"/>
<line x1="756.1" y1="134" x2="766.3" y2="134" stroke-width="1.45"/>
<line x1="756.1" y1="76.08" x2="766.3" y2="76.08" stroke-width="1.45"/>
<line x1="786.9" y1="443.2" x2="786.9" y2="453.8" stroke-width="1.45"/>
<line x1="849.9" y1="443.2" x2="849.9" y2="453.8" stroke-width="1.45"/>
<line x1="912.6" y1="443.2" x2="912.6" y2="453.8" stroke-width="1.45"/>
<line x1="975.3" y1="443.2" x2="975.3" y2="453.8" stroke-width="1.45"/>
<line x1="1038.9" y1="443.2" x2="1038.9" y2="453.8" stroke-width="1.45"/>
<line x1="1102.1" y1="443.2" x2="1102.1" y2="453.8" stroke-width="1.45"/>
<line x1="1165" y1="443.2" x2="1165" y2="453.8" stroke-width="1.45"/>
</g>
<text transform="translate(722.51 432) scale(1.1121 1)" font-size="29" stroke="#000" stroke-width="0.4" stroke-linejoin="round">0</text>
<text transform="translate(705.73 374.08) scale(1.0761 1)" font-size="29" stroke="#000" stroke-width="0.4" stroke-linejoin="round">30</text>
<text transform="translate(705.32 316.16) scale(1.0893 1)" font-size="29" stroke="#000" stroke-width="0.4" stroke-linejoin="round">60</text>
<text transform="translate(705.4 258.24) scale(1.0866 1)" font-size="29" stroke="#000" stroke-width="0.4" stroke-linejoin="round">90</text>
<text transform="translate(694.13 200.32) scale(0.9535 1)" font-size="29" stroke="#000" stroke-width="0.4" stroke-linejoin="round">120</text>
<text transform="translate(694.13 142.4) scale(0.9535 1)" font-size="29" stroke="#000" stroke-width="0.4" stroke-linejoin="round">150</text>
<text transform="translate(693.08 84.48) scale(0.9757 1)" font-size="29" stroke="#000" stroke-width="0.4" stroke-linejoin="round">180</text>
<text transform="translate(777.78 488.2) scale(1.1410 1)" font-size="29" stroke="#000" stroke-width="0.4" stroke-linejoin="round">0</text>
<text transform="translate(835.4 488.2) scale(0.8733 1)" font-size="29" stroke="#000" stroke-width="0.4" stroke-linejoin="round">15</text>
<text transform="translate(895.02 488.2) scale(1.0861 1)" font-size="29" stroke="#000" stroke-width="0.4" stroke-linejoin="round">30</text>
<text transform="translate(960.25 488.2) scale(0.9974 1)" font-size="29" stroke="#000" stroke-width="0.4" stroke-linejoin="round">45</text>
<text transform="translate(1021.1 488.2) scale(1.1028 1)" font-size="29" stroke="#000" stroke-width="0.4" stroke-linejoin="round">60</text>
<text transform="translate(1085.92 488.2) scale(0.9726 1)" font-size="29" stroke="#000" stroke-width="0.4" stroke-linejoin="round">75</text>
<text transform="translate(1147.38 488.2) scale(1.1001 1)" font-size="29" stroke="#000" stroke-width="0.4" stroke-linejoin="round">90</text>
<text transform="translate(885.86 539) scale(1.0118 1)" font-size="33.6" stroke="#000" stroke-width="0.25" stroke-linejoin="round">Time (min)</text>
<text transform="translate(665 367.78) rotate(-90) scale(1.0276 1)" font-size="33.6" stroke="#000" stroke-width="0.25" stroke-linejoin="round">[Product] (µM)</text>
<g stroke="#000" fill="none">
<line x1="912.9" y1="341.32" x2="912.9" y2="343.48" stroke-width="3.0"/>
<line x1="912.9" y1="357.16" x2="912.9" y2="359.32" stroke-width="3.0"/>
<line x1="904.9" y1="341.32" x2="920.9" y2="341.32" stroke-width="3.3"/>
<line x1="904.9" y1="359.32" x2="920.9" y2="359.32" stroke-width="3.3"/>
<line x1="1038.9" y1="327.67" x2="1038.9" y2="330.23" stroke-width="3.0"/>
<line x1="1038.9" y1="343.91" x2="1038.9" y2="346.47" stroke-width="3.0"/>
<line x1="1030.9" y1="327.67" x2="1046.9" y2="327.67" stroke-width="3.3"/>
<line x1="1030.9" y1="346.47" x2="1046.9" y2="346.47" stroke-width="3.3"/>
<line x1="1164.9" y1="321.67" x2="1164.9" y2="324.43" stroke-width="3.0"/>
<line x1="1164.9" y1="338.11" x2="1164.9" y2="340.87" stroke-width="3.0"/>
<line x1="1156.9" y1="321.67" x2="1172.9" y2="321.67" stroke-width="3.3"/>
<line x1="1156.9" y1="340.87" x2="1172.9" y2="340.87" stroke-width="3.3"/>
<line x1="807.9" y1="342.77" x2="807.9" y2="343.67" stroke-width="3.0"/>
<line x1="807.9" y1="359.87" x2="807.9" y2="360.77" stroke-width="3.0"/>
<line x1="799.9" y1="342.77" x2="815.9" y2="342.77" stroke-width="3.3"/>
<line x1="799.9" y1="360.77" x2="815.9" y2="360.77" stroke-width="3.3"/>
<line x1="828.9" y1="323.13" x2="828.9" y2="324.53" stroke-width="3.0"/>
<line x1="828.9" y1="340.73" x2="828.9" y2="342.13" stroke-width="3.0"/>
<line x1="820.9" y1="323.13" x2="836.9" y2="323.13" stroke-width="3.3"/>
<line x1="820.9" y1="342.13" x2="836.9" y2="342.13" stroke-width="3.3"/>
<line x1="849.9" y1="305.58" x2="849.9" y2="308.48" stroke-width="3.0"/>
<line x1="849.9" y1="324.68" x2="849.9" y2="327.58" stroke-width="3.0"/>
<line x1="841.9" y1="305.58" x2="857.9" y2="305.58" stroke-width="3.3"/>
<line x1="841.9" y1="327.58" x2="857.9" y2="327.58" stroke-width="3.3"/>
<line x1="912.9" y1="281.77" x2="912.9" y2="282.87" stroke-width="3.0"/>
<line x1="912.9" y1="299.07" x2="912.9" y2="300.17" stroke-width="3.0"/>
<line x1="904.9" y1="281.77" x2="920.9" y2="281.77" stroke-width="3.3"/>
<line x1="904.9" y1="300.17" x2="920.9" y2="300.17" stroke-width="3.3"/>
<line x1="807.9" y1="307.42" x2="807.9" y2="314.37" stroke-width="3.0"/>
<line x1="807.9" y1="329.57" x2="807.9" y2="335.42" stroke-width="3.0"/>
<line x1="799.9" y1="307.42" x2="815.9" y2="307.42" stroke-width="3.3"/>
<line x1="799.9" y1="335.42" x2="815.9" y2="335.42" stroke-width="3.3"/>
<line x1="828.9" y1="268.22" x2="828.9" y2="279.57" stroke-width="3.0"/>
<line x1="828.9" y1="294.77" x2="828.9" y2="305.02" stroke-width="3.0"/>
<line x1="820.9" y1="268.22" x2="836.9" y2="268.22" stroke-width="3.3"/>
<line x1="820.9" y1="305.02" x2="836.9" y2="305.02" stroke-width="3.3"/>
<line x1="849.9" y1="243.52" x2="849.9" y2="256.17" stroke-width="3.0"/>
<line x1="849.9" y1="271.37" x2="849.9" y2="282.92" stroke-width="3.0"/>
<line x1="841.9" y1="243.52" x2="857.9" y2="243.52" stroke-width="3.3"/>
<line x1="841.9" y1="282.92" x2="857.9" y2="282.92" stroke-width="3.3"/>
<line x1="912.9" y1="187.28" x2="912.9" y2="205.33" stroke-width="3.0"/>
<line x1="912.9" y1="220.53" x2="912.9" y2="237.48" stroke-width="3.0"/>
<line x1="904.9" y1="187.28" x2="920.9" y2="187.28" stroke-width="3.3"/>
<line x1="904.9" y1="237.48" x2="920.9" y2="237.48" stroke-width="3.3"/>
<line x1="1038.9" y1="130.76" x2="1038.9" y2="147.91" stroke-width="3.0"/>
<line x1="1038.9" y1="163.11" x2="1038.9" y2="179.16" stroke-width="3.0"/>
<line x1="1030.9" y1="130.76" x2="1046.9" y2="130.76" stroke-width="3.3"/>
<line x1="1030.9" y1="179.16" x2="1046.9" y2="179.16" stroke-width="3.3"/>
<line x1="1164.9" y1="108.11" x2="1164.9" y2="120.46" stroke-width="3.0"/>
<line x1="1164.9" y1="135.66" x2="1164.9" y2="146.91" stroke-width="3.0"/>
<line x1="1156.9" y1="108.11" x2="1172.9" y2="108.11" stroke-width="3.3"/>
<line x1="1156.9" y1="146.91" x2="1172.9" y2="146.91" stroke-width="3.3"/>
</g>
<g stroke="#000" fill="none" stroke-width="3.6">
<circle cx="786.9" cy="423.3" r="8"/>
<circle cx="807.9" cy="407.64" r="8"/>
<circle cx="828.9" cy="405.13" r="8"/>
<circle cx="849.9" cy="403.97" r="8"/>
<circle cx="912.9" cy="402.23" r="8"/>
<circle cx="1038.9" cy="400.1" r="8"/>
<circle cx="1164.9" cy="399.52" r="8"/>
<rect x="778.8" y="415.2" width="16.2" height="16.2"/>
<rect x="799.8" y="381.17" width="16.2" height="16.2"/>
<rect x="820.8" y="376.53" width="16.2" height="16.2"/>
<rect x="841.8" y="374.21" width="16.2" height="16.2"/>
<rect x="904.8" y="371.51" width="16.2" height="16.2"/>
<rect x="1030.8" y="368.22" width="16.2" height="16.2"/>
<rect x="1156.8" y="367.06" width="16.2" height="16.2"/>
<path d="M779 423.3L782.95 416.46L790.85 416.46L794.8 423.3L790.85 430.14L782.95 430.14Z"/>
<path d="M800 385.02L803.95 378.18L811.85 378.18L815.8 385.02L811.85 391.86L803.95 391.86Z"/>
<path d="M821 374.77L824.95 367.93L832.85 367.93L836.8 374.77L832.85 381.62L824.95 381.62Z"/>
<path d="M842 366.27L845.95 359.43L853.85 359.43L857.8 366.27L853.85 373.11L845.95 373.11Z"/>
<path d="M905 350.32L908.95 343.48L916.85 343.48L920.8 350.32L916.85 357.16L908.95 357.16Z"/>
<path d="M1031 337.07L1034.95 330.23L1042.85 330.23L1046.8 337.07L1042.85 343.92L1034.95 343.92Z"/>
<path d="M1157 331.27L1160.95 324.43L1168.85 324.43L1172.8 331.27L1168.85 338.12L1160.95 338.12Z"/>
<path d="M786.9 415.35L794.85 423.3L786.9 431.25L778.95 423.3Z"/>
<path d="M807.9 343.82L815.85 351.77L807.9 359.72L799.95 351.77Z"/>
<path d="M828.9 324.68L836.85 332.63L828.9 340.58L820.95 332.63Z"/>
<path d="M849.9 308.63L857.85 316.58L849.9 324.53L841.95 316.58Z"/>
<path d="M912.9 283.02L920.85 290.97L912.9 298.92L904.95 290.97Z"/>
<path d="M1038.9 259.91L1046.85 267.86L1038.9 275.81L1030.95 267.86Z"/>
<path d="M1164.9 249.47L1172.85 257.42L1164.9 265.37L1156.95 257.42Z"/>
<path d="M786.9 416.25L794.8 431.45L779 431.45Z" stroke-width="3.1"/>
<path d="M807.9 314.37L815.8 329.57L800 329.57Z" stroke-width="3.1"/>
<path d="M828.9 279.57L836.8 294.77L821 294.77Z" stroke-width="3.1"/>
<path d="M849.9 256.17L857.8 271.37L842 271.37Z" stroke-width="3.1"/>
<path d="M912.9 205.33L920.8 220.53L905 220.53Z" stroke-width="3.1"/>
<path d="M1038.9 147.91L1046.8 163.11L1031 163.11Z" stroke-width="3.1"/>
<path d="M1164.9 120.46L1172.8 135.66L1157 135.66Z" stroke-width="3.1"/>
</g>
</g>
<g id="panel-c">
<g stroke="#000" fill="none">
<line x1="1378.6" y1="75.36" x2="1378.6" y2="443.93" stroke-width="1.45"/>
<line x1="1377.88" y1="443.2" x2="1778.32" y2="443.2" stroke-width="1.45"/>
<line x1="1368.4" y1="423.6" x2="1378.6" y2="423.6" stroke-width="1.45"/>
<line x1="1368.4" y1="365.68" x2="1378.6" y2="365.68" stroke-width="1.45"/>
<line x1="1368.4" y1="307.76" x2="1378.6" y2="307.76" stroke-width="1.45"/>
<line x1="1368.4" y1="249.84" x2="1378.6" y2="249.84" stroke-width="1.45"/>
<line x1="1368.4" y1="191.92" x2="1378.6" y2="191.92" stroke-width="1.45"/>
<line x1="1368.4" y1="134" x2="1378.6" y2="134" stroke-width="1.45"/>
<line x1="1368.4" y1="76.08" x2="1378.6" y2="76.08" stroke-width="1.45"/>
<line x1="1399.1" y1="443.2" x2="1399.1" y2="453.8" stroke-width="1.45"/>
<line x1="1462.5" y1="443.2" x2="1462.5" y2="453.8" stroke-width="1.45"/>
<line x1="1525" y1="443.2" x2="1525" y2="453.8" stroke-width="1.45"/>
<line x1="1588.4" y1="443.2" x2="1588.4" y2="453.8" stroke-width="1.45"/>
<line x1="1651.6" y1="443.2" x2="1651.6" y2="453.8" stroke-width="1.45"/>
<line x1="1714.9" y1="443.2" x2="1714.9" y2="453.8" stroke-width="1.45"/>
<line x1="1777.6" y1="443.2" x2="1777.6" y2="453.8" stroke-width="1.45"/>
</g>
<text transform="translate(1335.01 432) scale(1.1121 1)" font-size="29" stroke="#000" stroke-width="0.4" stroke-linejoin="round">0</text>
<text transform="translate(1318.23 374.08) scale(1.0761 1)" font-size="29" stroke="#000" stroke-width="0.4" stroke-linejoin="round">30</text>
<text transform="translate(1317.82 316.16) scale(1.0893 1)" font-size="29" stroke="#000" stroke-width="0.4" stroke-linejoin="round">60</text>
<text transform="translate(1317.9 258.24) scale(1.0866 1)" font-size="29" stroke="#000" stroke-width="0.4" stroke-linejoin="round">90</text>
<text transform="translate(1306.63 200.32) scale(0.9535 1)" font-size="29" stroke="#000" stroke-width="0.4" stroke-linejoin="round">120</text>
<text transform="translate(1306.63 142.4) scale(0.9535 1)" font-size="29" stroke="#000" stroke-width="0.4" stroke-linejoin="round">150</text>
<text transform="translate(1305.58 84.48) scale(0.9757 1)" font-size="29" stroke="#000" stroke-width="0.4" stroke-linejoin="round">180</text>
<text transform="translate(1389.74 488.2) scale(1.1699 1)" font-size="29" stroke="#000" stroke-width="0.4" stroke-linejoin="round">0</text>
<text transform="translate(1447.48 488.2) scale(0.8837 1)" font-size="29" stroke="#000" stroke-width="0.4" stroke-linejoin="round">15</text>
<text transform="translate(1507.11 488.2) scale(1.0961 1)" font-size="29" stroke="#000" stroke-width="0.4" stroke-linejoin="round">30</text>
<text transform="translate(1572.65 488.2) scale(0.9974 1)" font-size="29" stroke="#000" stroke-width="0.4" stroke-linejoin="round">45</text>
<text transform="translate(1633.29 488.2) scale(1.1095 1)" font-size="29" stroke="#000" stroke-width="0.4" stroke-linejoin="round">60</text>
<text transform="translate(1698.52 488.2) scale(0.9692 1)" font-size="29" stroke="#000" stroke-width="0.4" stroke-linejoin="round">75</text>
<text transform="translate(1759.88 488.2) scale(1.1001 1)" font-size="29" stroke="#000" stroke-width="0.4" stroke-linejoin="round">90</text>
<text transform="translate(1498.36 539) scale(1.0118 1)" font-size="33.6" stroke="#000" stroke-width="0.25" stroke-linejoin="round">Time (min)</text>
<text transform="translate(1277.5 367.78) rotate(-90) scale(1.0276 1)" font-size="33.6" stroke="#000" stroke-width="0.25" stroke-linejoin="round">[Product] (µM)</text>
<g stroke="#000" fill="none">
<line x1="1461.74" y1="304.11" x2="1461.74" y2="304.81" stroke-width="3.0"/>
<line x1="1461.74" y1="321.01" x2="1461.74" y2="321.71" stroke-width="3.0"/>
<line x1="1453.74" y1="304.11" x2="1469.74" y2="304.11" stroke-width="3.3"/>
<line x1="1453.74" y1="321.71" x2="1469.74" y2="321.71" stroke-width="3.3"/>
<line x1="1524.47" y1="296" x2="1524.47" y2="296.5" stroke-width="3.0"/>
<line x1="1524.47" y1="312.7" x2="1524.47" y2="313.2" stroke-width="3.0"/>
<line x1="1516.47" y1="296" x2="1532.47" y2="296" stroke-width="3.3"/>
<line x1="1516.47" y1="313.2" x2="1532.47" y2="313.2" stroke-width="3.3"/>
<line x1="1649.95" y1="289.65" x2="1649.95" y2="291.35" stroke-width="3.0"/>
<line x1="1649.95" y1="307.55" x2="1649.95" y2="309.25" stroke-width="3.0"/>
<line x1="1641.95" y1="289.65" x2="1657.95" y2="289.65" stroke-width="3.3"/>
<line x1="1641.95" y1="309.25" x2="1657.95" y2="309.25" stroke-width="3.3"/>
<line x1="1775.42" y1="286.71" x2="1775.42" y2="288.61" stroke-width="3.0"/>
<line x1="1775.42" y1="304.81" x2="1775.42" y2="306.71" stroke-width="3.0"/>
<line x1="1767.42" y1="286.71" x2="1783.42" y2="286.71" stroke-width="3.3"/>
<line x1="1767.42" y1="306.71" x2="1783.42" y2="306.71" stroke-width="3.3"/>
<line x1="1440.83" y1="284.37" x2="1440.83" y2="286.72" stroke-width="3.0"/>
<line x1="1440.83" y1="301.92" x2="1440.83" y2="303.17" stroke-width="3.0"/>
<line x1="1432.83" y1="284.37" x2="1448.83" y2="284.37" stroke-width="3.3"/>
<line x1="1432.83" y1="303.17" x2="1448.83" y2="303.17" stroke-width="3.3"/>
<line x1="1461.74" y1="261.38" x2="1461.74" y2="263.13" stroke-width="3.0"/>
<line x1="1461.74" y1="278.33" x2="1461.74" y2="278.98" stroke-width="3.0"/>
<line x1="1453.74" y1="261.38" x2="1469.74" y2="261.38" stroke-width="3.3"/>
<line x1="1453.74" y1="278.98" x2="1469.74" y2="278.98" stroke-width="3.3"/>
<line x1="1649.95" y1="199.97" x2="1649.95" y2="205.52" stroke-width="3.0"/>
<line x1="1649.95" y1="220.72" x2="1649.95" y2="225.17" stroke-width="3.0"/>
<line x1="1641.95" y1="199.97" x2="1657.95" y2="199.97" stroke-width="3.3"/>
<line x1="1641.95" y1="225.17" x2="1657.95" y2="225.17" stroke-width="3.3"/>
<line x1="1775.42" y1="198.48" x2="1775.42" y2="202.43" stroke-width="3.0"/>
<line x1="1775.42" y1="217.63" x2="1775.42" y2="220.48" stroke-width="3.0"/>
<line x1="1767.42" y1="198.48" x2="1783.42" y2="198.48" stroke-width="3.3"/>
<line x1="1767.42" y1="220.48" x2="1783.42" y2="220.48" stroke-width="3.3"/>
</g>
<g stroke="#000" fill="none" stroke-width="3.6">
<circle cx="1399" cy="423.3" r="8"/>
<circle cx="1419.91" cy="366.07" r="8"/>
<circle cx="1440.83" cy="360.27" r="8"/>
<circle cx="1461.74" cy="357.37" r="8"/>
<circle cx="1524.47" cy="353.31" r="8"/>
<circle cx="1649.95" cy="350.3" r="8"/>
<circle cx="1775.42" cy="349.2" r="8"/>
<path d="M1399 415.35L1406.95 423.3L1399 431.25L1391.05 423.3Z"/>
<path d="M1419.91 332.6L1427.86 340.55L1419.91 348.5L1411.96 340.55Z"/>
<path d="M1440.83 312.69L1448.78 320.64L1440.83 328.59L1432.88 320.64Z"/>
<path d="M1461.74 304.96L1469.69 312.91L1461.74 320.86L1453.79 312.91Z"/>
<path d="M1524.47 296.65L1532.42 304.6L1524.47 312.55L1516.52 304.6Z"/>
<path d="M1649.95 291.5L1657.9 299.45L1649.95 307.4L1642 299.45Z"/>
<path d="M1775.42 288.76L1783.38 296.71L1775.42 304.66L1767.47 296.71Z"/>
<path d="M1399 416.25L1406.9 431.45L1391.1 431.45Z" stroke-width="3.1"/>
<path d="M1419.91 316.69L1427.81 331.89L1412.01 331.89Z" stroke-width="3.1"/>
<path d="M1440.83 286.72L1448.73 301.92L1432.92 301.92Z" stroke-width="3.1"/>
<path d="M1461.74 263.13L1469.64 278.33L1453.84 278.33Z" stroke-width="3.1"/>
<path d="M1524.47 225.24L1532.38 240.44L1516.57 240.44Z" stroke-width="3.1"/>
<path d="M1649.95 205.52L1657.85 220.72L1642.05 220.72Z" stroke-width="3.1"/>
<path d="M1775.42 202.43L1783.33 217.63L1767.52 217.63Z" stroke-width="3.1"/>
<path d="M1391.1 423.3L1395.05 416.46L1402.95 416.46L1406.9 423.3L1402.95 430.14L1395.05 430.14Z"/>
<path d="M1412.01 316L1415.96 309.16L1423.86 309.16L1427.81 316L1423.86 322.84L1415.96 322.84Z"/>
<path d="M1432.92 284.49L1436.88 277.65L1444.78 277.65L1448.73 284.49L1444.78 291.33L1436.88 291.33Z"/>
<path d="M1453.84 256.46L1457.79 249.61L1465.69 249.61L1469.64 256.46L1465.69 263.3L1457.79 263.3Z"/>
<path d="M1516.57 203.58L1520.52 196.74L1528.42 196.74L1532.38 203.58L1528.42 210.42L1520.52 210.42Z"/>
<path d="M1642.05 143.36L1646 136.52L1653.9 136.52L1657.85 143.36L1653.9 150.2L1646 150.2Z"/>
<path d="M1767.52 117.45L1771.47 110.61L1779.38 110.61L1783.33 117.45L1779.38 124.29L1771.47 124.29Z"/>
</g>
</g>
</svg>
</body>
</html>
